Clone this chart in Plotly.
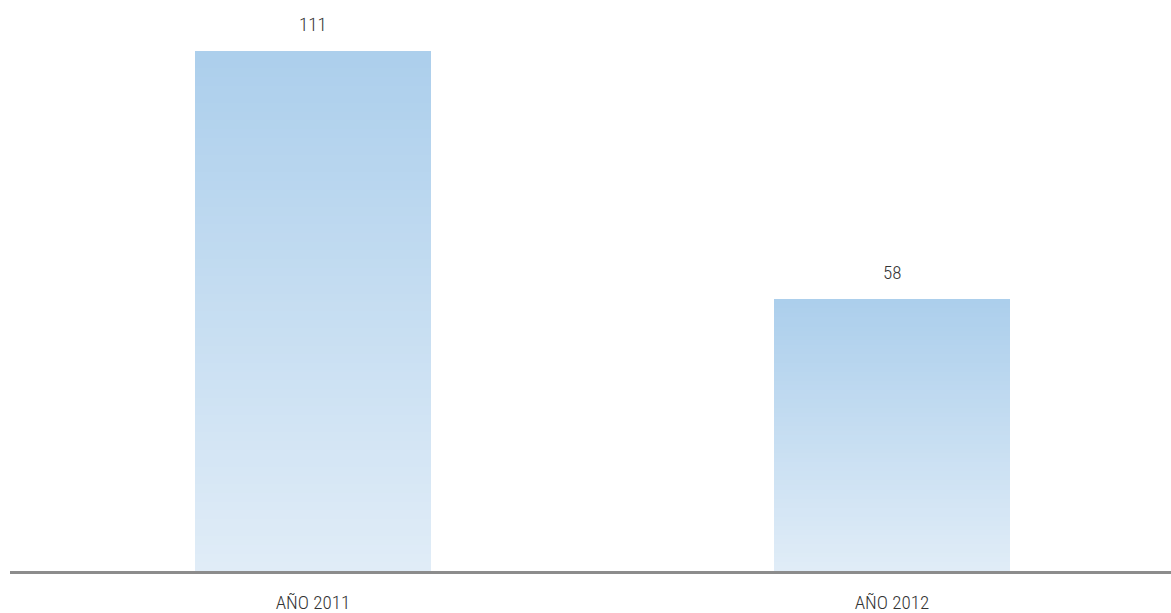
import plotly.graph_objects as go

categories = ["AÑO 2011", "AÑO 2012"]
values = [111, 58]

# vertical gradient: light at the base, deeper blue at the top
color_bottom = (0xE0, 0xEC, 0xF7)
color_top = (0xAC, 0xCF, 0xEC)
steps = 60


def blend(t):
    r, g, b = (round(lo + (hi - lo) * t) for lo, hi in zip(color_bottom, color_top))
    return f"rgb({r},{g},{b})"


fig = go.Figure()

# each bar is built from thin stacked slices so it can carry a gradient
for i in range(steps):
    t = i / (steps - 1)
    fig.add_trace(go.Bar(
        x=categories,
        y=[v / steps for v in values],
        base=[v * i / steps for v in values],
        marker=dict(color=blend(t), line=dict(width=0)),
        width=0.408,
        hoverinfo="skip",
        showlegend=False,
    ))

label_font = dict(size=19, color="#333333", weight=300)

for cat, val in zip(categories, values):
    fig.add_annotation(
        x=cat, y=val, text=str(val), showarrow=False,
        yanchor="bottom", yshift=13,
        font=label_font,
    )

fig.update_layout(
    width=1171, height=613,
    barmode="overlay",
    bargap=0,
    margin=dict(l=10, r=0, t=9, b=42),
    paper_bgcolor="white",
    plot_bgcolor="white",
    font=dict(family="Roboto Condensed, Liberation Sans Narrow, Roboto, sans-serif", color="#333333"),
    xaxis=dict(
        range=[-0.5233, 1.4819],
        showline=True, linecolor="#8c8c8c", linewidth=3,
        ticks="", showgrid=False, zeroline=False,
        automargin=False,
        ticklabelstandoff=12,
        tickfont=label_font,
    ),
    yaxis=dict(
        range=[0, 120],
        visible=False, showgrid=False, zeroline=False,
    ),
)

fig.write_html("out.html")
